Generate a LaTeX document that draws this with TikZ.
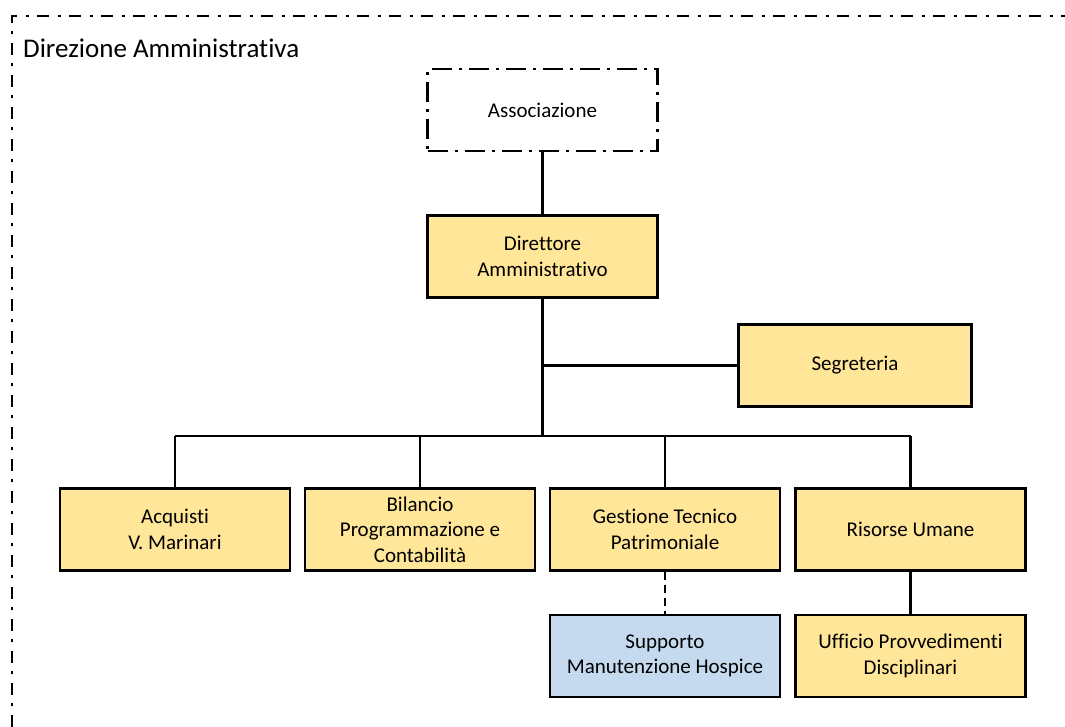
\documentclass[tikz,border=0pt]{standalone}
\usepackage{fontspec}
\setmainfont{Carlito}[Ligatures={NoCommon}]
\definecolor{unitfill}{HTML}{FFE699}
\definecolor{supportfill}{HTML}{C5DAEE}
\tikzset{
  unit/.style={draw=black, line width=2.5pt, fill=unitfill, rectangle,
    minimum width=230pt, minimum height=82pt, align=center,
    font=\fontsize{21}{25.5}\selectfont, inner sep=2pt},
  support/.style={unit, fill=supportfill},
  extbox/.style={unit, fill=none, dash pattern=on 20pt off 7pt on 3pt off 7pt},
  link/.style={line width=2.5pt},
  dottedlink/.style={link, dash pattern=on 8pt off 5pt},
  framedash/.style={line width=2.5pt, dash pattern=on 12pt off 9pt on 3pt off 8pt}
}
\begin{document}
\begin{tikzpicture}[x=1pt,y=-1pt]
\useasboundingbox (0,0) rectangle (1065,727);

% outer frame of the administrative direction
\draw[framedash] (12,727) -- (12,16) -- (1065,16);
\node[anchor=west, font=\fontsize{27}{32}\selectfont, inner sep=0pt] (title) at (23,48) {Direzione Amministrativa};

% top levels
\node[extbox] (assoc) at (542.5,110) {Associazione};
\node[unit] (dir) at (542.5,256.5) {Direttore\\Amministrativo};
\node[unit, minimum width=233pt] (seg) at (855,365.5) {Segreteria};

% offices
\node[unit] (acq) at (175,529.5) {Acquisti\\V. Marinari};
\node[unit] (bil) at (420,529.5) {Bilancio\\Programmazione e\\Contabilità};
\node[unit] (gest) at (665,529.5) {Gestione Tecnico\\Patrimoniale};
\node[unit] (ris) at (910.5,529.5) {Risorse Umane};

% sub-offices
\node[support] (supp) at (665,656) {Supporto\\Manutenzione Hospice};
\node[unit] (uff) at (910.5,656) {Ufficio Provvedimenti\\Disciplinari};

% bus line
\coordinate (busL) at (175,436);
\coordinate (busR) at (910.5,436);

\draw[link] (assoc.south) -- (dir.north);
\draw[link] (dir.south) -- (dir.south |- busL);
\draw[link] (seg.west) -- (seg.west -| dir.south);
\draw[link] (busL) -- (busR);
\draw[link] (acq.north) -- (acq.north |- busL);
\draw[link] (bil.north) -- (bil.north |- busL);
\draw[link] (gest.north) -- (gest.north |- busL);
\draw[link] (ris.north) -- (ris.north |- busL);
\draw[dottedlink] (gest.south) -- (supp.north);
\draw[link] (ris.south) -- (uff.north);
\end{tikzpicture}
\end{document}
